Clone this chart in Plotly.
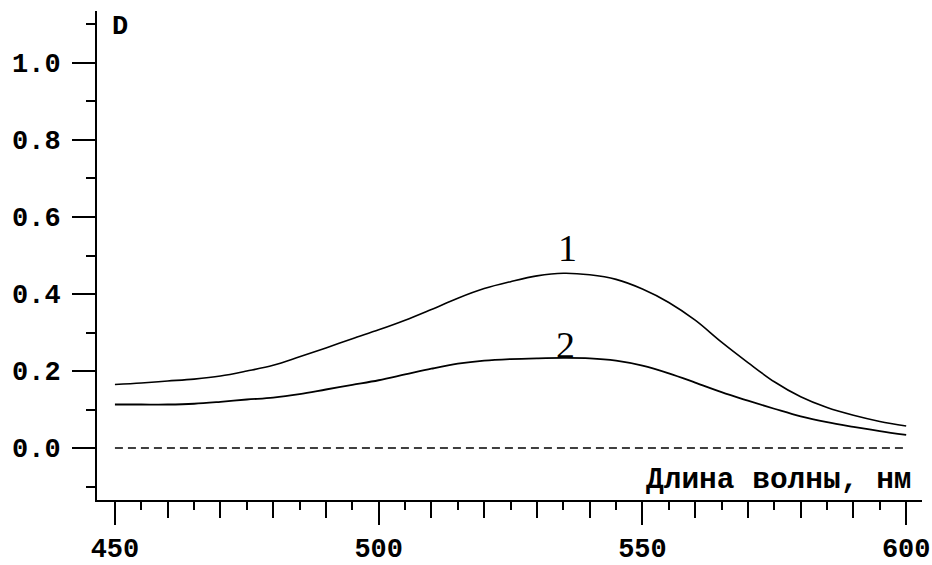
import plotly.graph_objects as go

wavelength = [450, 455, 460, 465, 470, 475, 480, 485, 490, 495, 500, 505, 510, 515, 520,
              525, 530, 535, 540, 545, 550, 555, 560, 565, 570, 575, 580, 585, 590, 595, 600]
curve1 = [0.165, 0.169, 0.174, 0.179, 0.187, 0.200, 0.215, 0.237, 0.260, 0.284, 0.307,
          0.332, 0.360, 0.389, 0.414, 0.432, 0.447, 0.454, 0.450, 0.438, 0.413, 0.378,
          0.332, 0.275, 0.222, 0.172, 0.133, 0.105, 0.085, 0.069, 0.057]
curve2 = [0.113, 0.113, 0.113, 0.115, 0.120, 0.126, 0.131, 0.140, 0.152, 0.164, 0.176,
          0.191, 0.206, 0.219, 0.227, 0.231, 0.233, 0.234, 0.233, 0.227, 0.214, 0.194,
          0.170, 0.145, 0.123, 0.102, 0.082, 0.067, 0.055, 0.044, 0.034]
baseline = [0.0] * len(wavelength)
x_ticks = [450, 500, 550, 600]
y_ticks = [0.0, 0.2, 0.4, 0.6, 0.8, 1.0]
y_tick_labels = ["0.0", "0.2", "0.4", "0.6", "0.8", "1.0"]
curve_labels = ["1", "2"]
x_title = "Длина волны, нм"
y_title = "D"

MONO = "Liberation Mono"
XR = [446.6, 603.0]
YR = [-0.135, 1.135]

fig = go.Figure()
fig.add_trace(go.Scatter(x=wavelength, y=baseline, mode="lines",
                         line=dict(color="black", width=1.5, dash="8px,5px"),
                         showlegend=False, hoverinfo="skip"))
fig.add_trace(go.Scatter(x=wavelength, y=curve1, mode="lines",
                         line=dict(color="black", width=1.6, shape="spline"),
                         showlegend=False))
fig.add_trace(go.Scatter(x=wavelength, y=curve2, mode="lines",
                         line=dict(color="black", width=1.8, shape="spline"),
                         showlegend=False))
# invisible trace on the extra x-axis for the shortest ticks
fig.add_trace(go.Scatter(x=[wavelength[0]], y=[curve1[0]], xaxis="x2", mode="markers",
                         marker=dict(opacity=0), showlegend=False, hoverinfo="skip"))

fig.update_layout(
    width=932, height=565,
    margin=dict(l=97, r=10, t=11, b=65, autoexpand=False),
    paper_bgcolor="white", plot_bgcolor="white",
    xaxis=dict(range=XR, tickvals=x_ticks, ticktext=[str(v) for v in x_ticks],
               automargin=False,
               ticks="outside", ticklen=23, tickwidth=2, tickcolor="black",
               showline=True, linewidth=2, linecolor="black",
               showgrid=False, zeroline=False,
               tickfont=dict(family=MONO, size=27, color="black", weight="bold"),
               ticklabelstandoff=0,
               minor=dict(dtick=10, tick0=450, ticks="outside", ticklen=16,
                          tickwidth=2, tickcolor="black", showgrid=False)),
    xaxis2=dict(range=XR, overlaying="x", anchor="y", side="bottom",
                automargin=False,
                dtick=5, tick0=450, ticks="outside", ticklen=9, tickwidth=2,
                tickcolor="black", showticklabels=False, showgrid=False,
                zeroline=False, showline=False),
    yaxis=dict(range=YR, tickvals=y_ticks, ticktext=y_tick_labels,
               automargin=False,
               ticks="outside", ticklen=23, tickwidth=2, tickcolor="black",
               showline=True, linewidth=2, linecolor="black",
               showgrid=False, zeroline=False,
               tickfont=dict(family=MONO, size=27, color="black", weight="bold"),
               ticklabelstandoff=6,
               minor=dict(dtick=0.1, tick0=0.1, ticks="outside", ticklen=9,
                          tickwidth=2, tickcolor="black", showgrid=False)),
    annotations=[
        dict(text=y_title, x=0.0158, xref="paper", y=1.094, yref="y",
             xanchor="left", yanchor="middle", showarrow=False,
             font=dict(family=MONO, size=27, color="black", weight="bold")),
        dict(text=x_title, x=0.99, xref="paper", y=-0.083, yref="y",
             xanchor="right", yanchor="middle", showarrow=False,
             font=dict(family=MONO, size=29.5, color="black", weight="bold")),
        dict(text=curve_labels[0], x=535.8, y=0.519, xref="x", yref="y",
             showarrow=False,
             font=dict(family="Liberation Serif", size=38, color="black")),
        dict(text=curve_labels[1], x=535.4, y=0.268, xref="x", yref="y",
             showarrow=False,
             font=dict(family="Liberation Serif", size=38, color="black")),
    ],
)

fig.write_html("out.html", config={"displayModeBar": False},
               post_script="document.body.style.margin='0';document.body.style.overflow='hidden';")
